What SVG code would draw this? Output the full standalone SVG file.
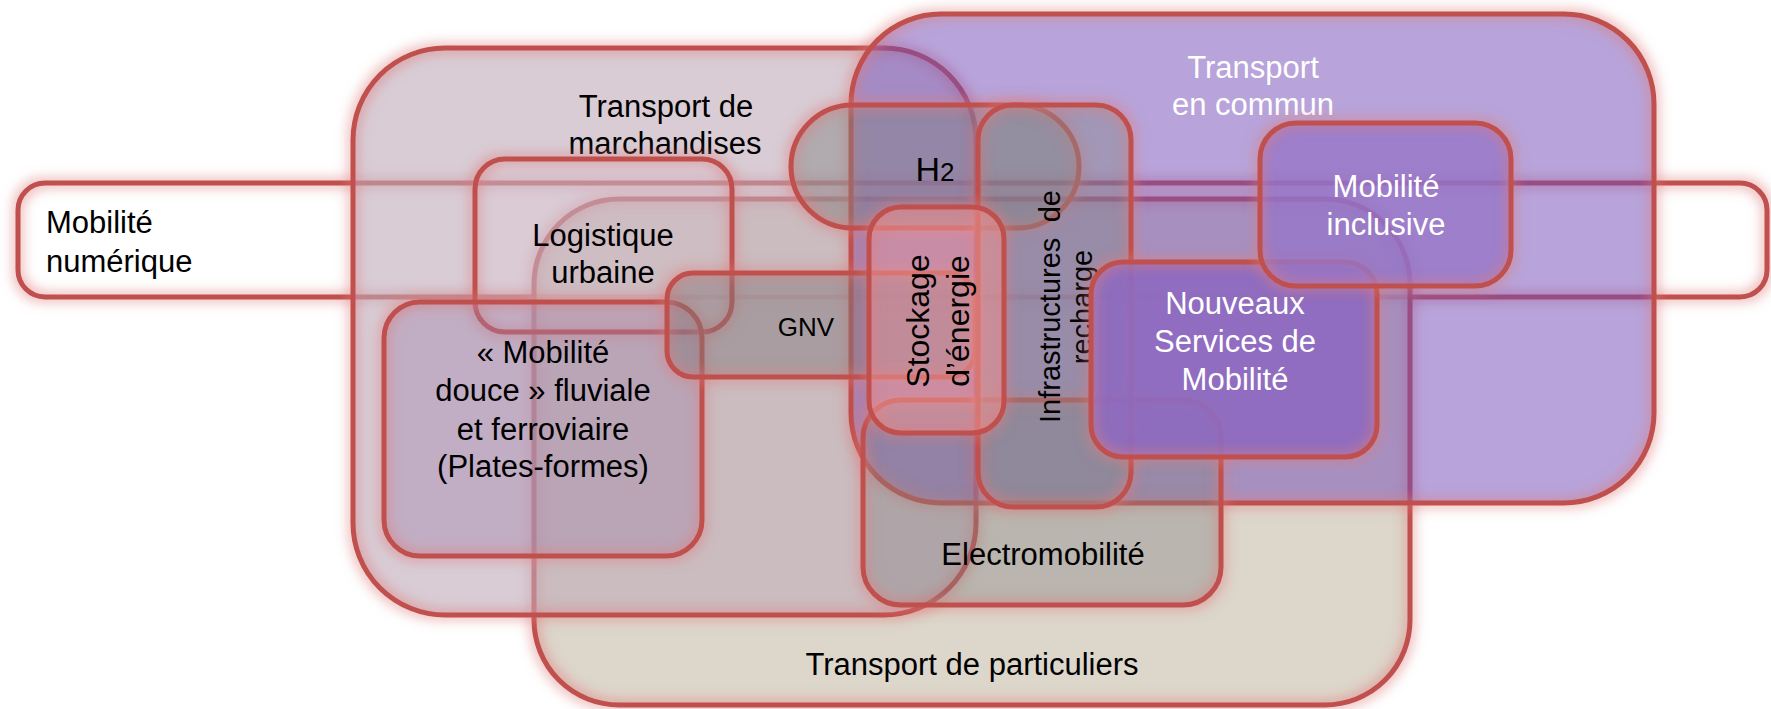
<svg xmlns="http://www.w3.org/2000/svg" width="1771" height="709" viewBox="0 0 1771 709">
<defs>
<style>
.edge{fill:none;stroke:#c0504d;stroke-width:5;filter:url(#glow)}
.lbl{font-family:"Liberation Sans",Arial,sans-serif;font-size:31px;fill:#000;text-anchor:middle}
.w{fill:#fff}
.st{text-anchor:start}
.en{text-anchor:end}
</style>
<filter id="glow" x="-30%" y="-30%" width="160%" height="160%" color-interpolation-filters="sRGB">
<feMorphology in="SourceAlpha" operator="dilate" radius="3" result="d"/>
<feGaussianBlur in="d" stdDeviation="6" result="b"/>
<feFlood flood-color="#e07b7b" flood-opacity="0.5"/>
<feComposite in2="b" operator="in" result="g"/>
<feMerge><feMergeNode in="g"/><feMergeNode in="SourceGraphic"/></feMerge>
</filter>
</defs>
<rect width="1771" height="709" fill="#fff"/>
<g id="connectors"/>

<g id="mobilite-numerique">
<rect class="edge" x="18" y="183" width="1749" height="114" rx="27"/>
<text class="lbl st" x="46" y="233">Mobilité</text>
<text class="lbl st" x="46" y="272">numérique</text>
</g>

<g id="transport-particuliers">
<rect x="534" y="199" width="876" height="506" rx="85" fill="rgb(210,200,185)" fill-opacity="0.75"/>
<rect class="edge" x="534" y="199" width="876" height="506" rx="85"/>
<text class="lbl" x="972" y="675">Transport de particuliers</text>
</g>

<g id="transport-marchandises">
<rect x="353" y="48" width="623" height="567" rx="92" fill="rgb(192,170,185)" fill-opacity="0.6"/>
<rect class="edge" x="353" y="48" width="623" height="567" rx="92"/>
<text class="lbl" x="666" y="117">Transport de</text>
<text class="lbl" x="665" y="154">marchandises</text>
</g>

<g id="logistique-urbaine">
<rect x="475" y="159" width="257" height="173" rx="30" fill="rgb(230,200,215)" fill-opacity="0.12"/>
<rect class="edge" x="475" y="159" width="257" height="173" rx="30"/>
<text class="lbl" x="603" y="246">Logistique</text>
<text class="lbl" x="603" y="283">urbaine</text>
</g>

<g id="transport-en-commun">
<rect x="851" y="14" width="803" height="489" rx="90" fill="rgb(113,73,181)" fill-opacity="0.5"/>
<rect class="edge" x="851" y="14" width="803" height="489" rx="90"/>
<text class="lbl w" x="1253" y="78">Transport</text>
<text class="lbl w" x="1253" y="115">en commun</text>
</g>

<g id="mobilite-douce">
<rect x="384" y="302" width="318" height="254" rx="36" fill="rgb(160,130,170)" fill-opacity="0.4"/>
<rect class="edge" x="384" y="302" width="318" height="254" rx="36"/>
<text class="lbl" x="543" y="363">« Mobilité</text>
<text class="lbl" x="543" y="401">douce » fluviale</text>
<text class="lbl" x="543" y="440">et ferroviaire</text>
<text class="lbl" x="543" y="477">(Plates-formes)</text>
</g>

<g id="h2">
<rect x="791" y="105" width="288" height="123" rx="61.5" fill="rgb(128,128,128)" fill-opacity="0.45"/>
<rect class="edge" x="791" y="105" width="288" height="123" rx="61.5"/>
<text class="lbl" x="935" y="181"><tspan style="font-size:34px">H</tspan><tspan style="font-size:26px">2</tspan></text>
</g>

<g id="gnv">
<rect x="667" y="273" width="308" height="104" rx="26" fill="rgb(128,120,125)" fill-opacity="0.45"/>
<rect class="edge" x="667" y="273" width="308" height="104" rx="26"/>
<text class="lbl" x="806" y="336" style="font-size:26px">GNV</text>
</g>

<g id="electromobilite">
<rect x="863" y="400" width="358" height="205" rx="38" fill="rgb(128,128,128)" fill-opacity="0.38"/>
<rect class="edge" x="863" y="400" width="358" height="205" rx="38"/>
<text class="lbl" x="1043" y="565">Electromobilité</text>
</g>

<g id="infrastructures-recharge">
<rect x="978" y="105" width="153" height="402" rx="35" fill="rgb(135,135,140)" fill-opacity="0.45"/>
<rect class="edge" x="978" y="105" width="153" height="402" rx="35"/>
<g transform="translate(1060,307) rotate(-90)">
<text class="lbl st" x="-116" y="0" style="font-size:29px">Infrastructures</text>
<text class="lbl en" x="117" y="0" style="font-size:29px">de</text>
<text class="lbl" x="0" y="32" style="font-size:29px">recharge</text>
</g>
</g>

<g id="stockage-energie">
<rect x="869" y="207" width="135" height="226" rx="32" fill="rgb(235,150,150)" fill-opacity="0.55"/>
<rect class="edge" x="869" y="207" width="135" height="226" rx="32"/>
<g transform="translate(929,321) rotate(-90)">
<text class="lbl" x="0" y="0" style="font-size:32px">Stockage</text>
<text class="lbl" x="0" y="40" style="font-size:32px">d’énergie</text>
</g>
</g>

<g id="nouveaux-services">
<rect x="1091" y="262" width="286" height="195" rx="32" fill="rgb(142,107,191)" fill-opacity="0.93"/>
<rect class="edge" x="1091" y="262" width="286" height="195" rx="32"/>
<text class="lbl w" x="1235" y="314">Nouveaux</text>
<text class="lbl w" x="1235" y="352">Services de</text>
<text class="lbl w" x="1235" y="390">Mobilité</text>
</g>

<g id="mobilite-inclusive">
<rect x="1260" y="123" width="251" height="163" rx="36" fill="rgb(150,118,200)" fill-opacity="0.8"/>
<rect class="edge" x="1260" y="123" width="251" height="163" rx="36"/>
<text class="lbl w" x="1386" y="197">Mobilité</text>
<text class="lbl w" x="1386" y="235">inclusive</text>
</g>
</svg>
